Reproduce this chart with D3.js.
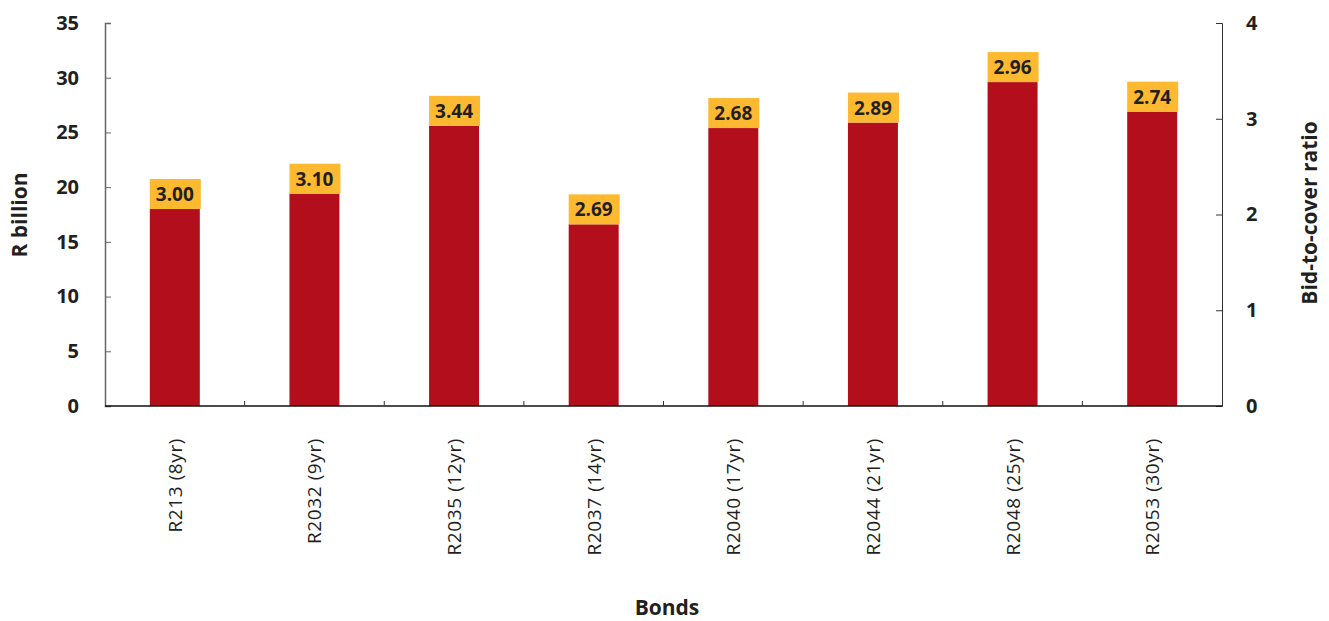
<!DOCTYPE html>
<html>
<head>
<meta charset="utf-8">
<script src="https://cdn.jsdelivr.net/npm/d3@7"></script>
<style>
  html, body { margin: 0; padding: 0; background: #fff; }
  svg { display: block; font-family: "Open Sans", "Noto Sans", sans-serif; }
</style>
</head>
<body>
<svg id="chart" width="1329" height="621"></svg>
<script>
const categories = ["R213 (8yr)", "R2032 (9yr)", "R2035 (12yr)", "R2037 (14yr)", "R2040 (17yr)", "R2044 (21yr)", "R2048 (25yr)", "R2053 (30yr)"];
const amounts = [18.0, 19.4, 25.6, 16.6, 25.4, 25.9, 29.6, 26.9];
const ratios = [3.00, 3.10, 3.44, 2.69, 2.68, 2.89, 2.96, 2.74];
const leftTicks = [0, 5, 10, 15, 20, 25, 30, 35];
const rightTicks = [0, 1, 2, 3, 4];

const W = 1329, H = 621;
const m = { left: 105, right: 107, top: 23, bottom: 215 };
const svg = d3.select("#chart");
const textColor = "#231f20";

const x = d3.scaleBand().domain(categories)
  .range([m.left, W - m.right])
  .paddingInner(0.642).paddingOuter(0.321);
const y = d3.scaleLinear().domain([0, 35]).range([H - m.bottom, m.top]);
const y2 = d3.scaleLinear().domain([0, 4]).range([H - m.bottom, m.top]);

// Bars
svg.append("g").selectAll("rect").data(categories).join("rect")
  .attr("x", d => x(d))
  .attr("y", (d, i) => y(amounts[i]))
  .attr("width", x.bandwidth())
  .attr("height", (d, i) => y(0) - y(amounts[i]))
  .attr("fill", "#b20e1c");

// Label boxes
const boxH = 30;
const lab = svg.append("g").selectAll("g").data(categories).join("g");
lab.append("rect")
  .attr("x", d => x(d))
  .attr("y", (d, i) => y(amounts[i]) - boxH)
  .attr("width", x.bandwidth() + 1)
  .attr("height", boxH)
  .attr("fill", "#fdb92f");
lab.append("text")
  .attr("x", d => x(d) + x.bandwidth() / 2)
  .attr("y", (d, i) => y(amounts[i]) - boxH / 2 + 7)
  .attr("text-anchor", "middle")
  .attr("font-size", 19).attr("font-weight", "bold")
  .attr("fill", textColor)
  .text((d, i) => ratios[i].toFixed(2));

// Left axis
const gl = svg.append("g").attr("transform", `translate(${m.left},0)`)
  .call(d3.axisLeft(y).tickValues(leftTicks).tickSize(-6).tickPadding(26).tickFormat(d3.format("d")));
gl.select(".domain").attr("stroke", "#666").attr("stroke-width", 1.5);
gl.selectAll(".tick line").attr("stroke", "#666");
gl.selectAll(".tick text").attr("font-size", 20).attr("font-weight", "bold")
  .attr("fill", textColor).attr("font-family", "'Open Sans', sans-serif");

// Right axis
const gr = svg.append("g").attr("transform", `translate(${W - m.right},0)`)
  .call(d3.axisRight(y2).tickValues(rightTicks).tickSize(-6).tickPadding(24).tickFormat(d3.format("d")));
gr.select(".domain").attr("stroke", "#333").attr("stroke-width", 1);
gr.selectAll(".tick line").attr("stroke", "#333");
gr.selectAll(".tick text").attr("font-size", 20).attr("font-weight", "bold")
  .attr("fill", textColor).attr("font-family", "'Open Sans', sans-serif");

// Bottom axis
const gb = svg.append("g").attr("transform", `translate(0,${H - m.bottom})`);
gb.append("line").attr("x1", m.left).attr("x2", W - m.right)
  .attr("stroke", "#111").attr("stroke-width", 1.5);
const boundaries = categories.slice(1).map(d => x(d) - x.step() * x.paddingInner() / 2);
gb.selectAll("line.tk").data(boundaries).join("line").attr("class", "tk")
  .attr("x1", d => d).attr("x2", d => d).attr("y1", 0).attr("y2", -5)
  .attr("stroke", "#333");

// Category labels
svg.append("g").selectAll("text").data(categories).join("text")
  .attr("transform", d => `translate(${x(d) + x.bandwidth() / 2 + 7},${H - m.bottom + 32}) rotate(-90)`)
  .attr("text-anchor", "end")
  .attr("font-size", 19)
  .attr("letter-spacing", 0.6)
  .attr("fill", textColor)
  .text(d => d);

// Axis titles
svg.append("text")
  .attr("transform", `translate(27,215) rotate(-90)`)
  .attr("text-anchor", "middle").attr("font-size", 21).attr("font-weight", "bold")
  .attr("fill", textColor).text("R billion");
svg.append("text")
  .attr("transform", `translate(1317,213) rotate(-90)`)
  .attr("text-anchor", "middle").attr("font-size", 21).attr("font-weight", "bold")
  .attr("fill", textColor).text("Bid-to-cover ratio");
svg.append("text")
  .attr("x", 667).attr("y", 615)
  .attr("text-anchor", "middle").attr("font-size", 21).attr("font-weight", "bold")
  .attr("fill", textColor).text("Bonds");
</script>
</body>
</html>
